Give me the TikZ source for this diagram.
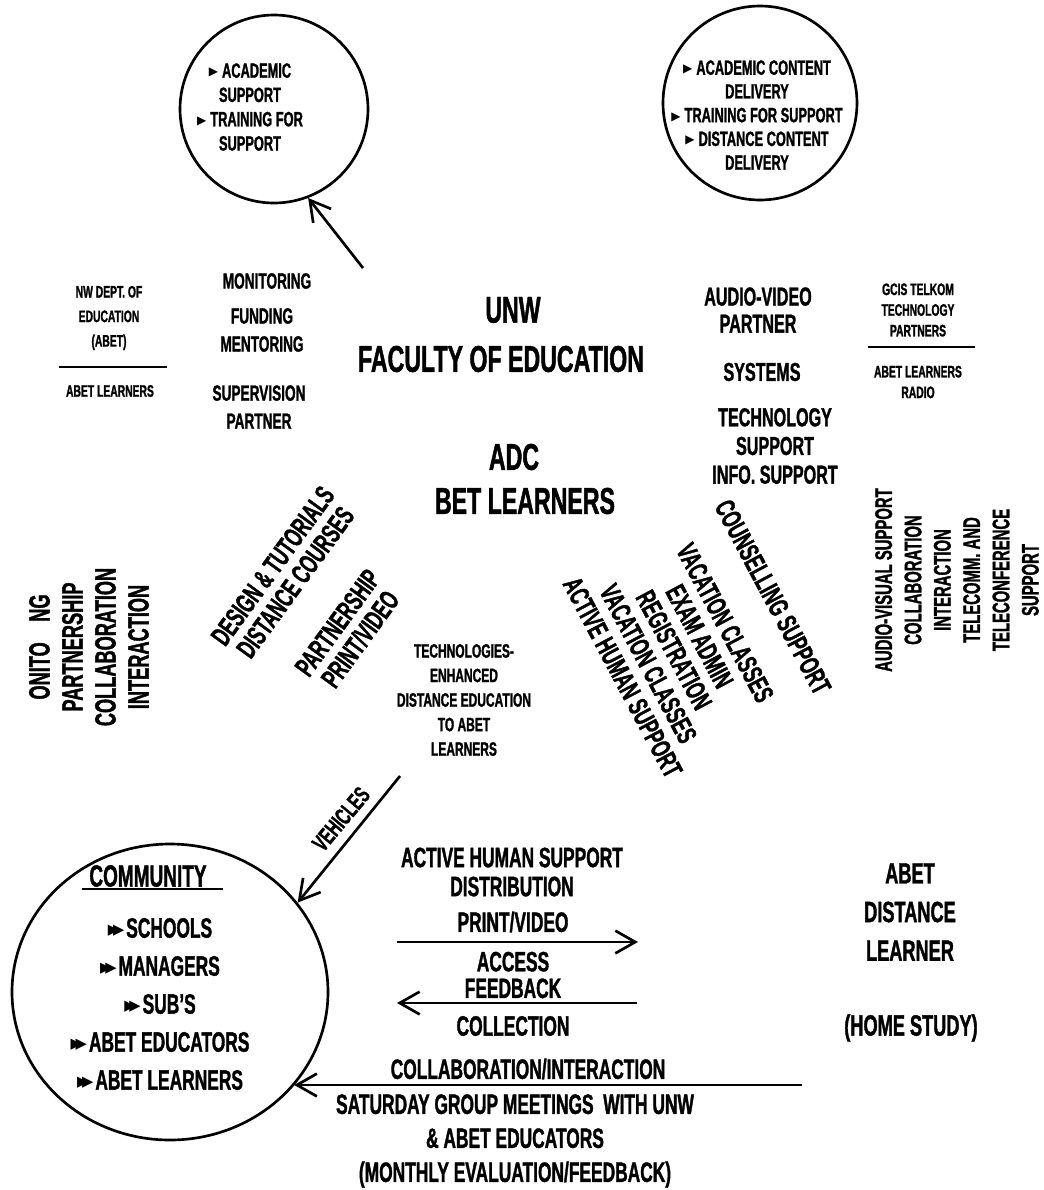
\documentclass[tikz,border=0pt]{standalone}
\usepackage{fontspec}
\setmainfont{Liberation Sans}[FakeStretch=0.62, BoldFeatures={FakeBold=1.2}]
\newfontfamily\symfont{DejaVu Sans}
\usetikzlibrary{arrows.meta,shapes.geometric}
\newcommand{\tribul}{\raisebox{1.5pt}{\symfont\fontsize{9}{9}\selectfont ▶}\hspace{3pt}}
\newcommand{\dtribul}{\raisebox{2.5pt}{\symfont\fontsize{11}{11}\selectfont ▶\kern-0.42em▶}\hspace{1.5pt}}

\tikzset{every picture/.style={line width=2pt}}
\tikzset{
  lbl/.style 2 args={font=\bfseries\fontsize{#1}{#2}\selectfont, align=center, inner sep=0pt},
  ring/.style={draw, circle, inner sep=0pt},
  arr/.style={-{Straight Barb[length=15pt,width=17pt]}},
  rulethin/.style={line width=1.2pt}
}

\begin{document}
\begin{tikzpicture}[x=0.75pt,y=0.75pt,yscale=-1,xscale=1]
\useasboundingbox (0,0) rectangle (1044,1190);

%Shape: Circle [academic support]
\draw (274,109) node[ring, minimum size=141pt] (acadring) {};
%Shape: Circle [content delivery]
\draw (760,103) node[ring, minimum size=145.5pt] (contentring) {};
%Shape: Ellipse [community]
\draw (170,992) node[draw, ellipse, inner sep=0pt, minimum width=237pt, minimum height=222pt] (commring) {};

% Text Node
\draw (250,107) node[lbl={15.5}{18.2}] (acadtxt) {\tribul ACADEMIC\\SUPPORT\\\tribul TRAINING FOR\\SUPPORT};
% Text Node
\draw (757,115) node[lbl={15.5}{17.8}] (contenttxt) {\tribul ACADEMIC CONTENT\\DELIVERY\\\tribul TRAINING FOR SUPPORT\\\tribul DISTANCE CONTENT\\DELIVERY};

%Straight Lines [monitoring arrow]
\coordinate (monarrow) at (363,268);
\draw[arr] (monarrow) -- (acadring.-69);

% Text Node
\draw (109,318) node[lbl={12.5}{18.4}] (nwdept) {NW DEPT. OF\\EDUCATION\\(ABET)};
\draw[rulethin] (59,367) -- (167,367);
% Text Node
\draw (110,391) node[lbl={12.5}{18.4}] (nwlearn) {ABET LEARNERS};

% Text Node
\draw (267,281) node[lbl={16.5}{21}] (monitor) {MONITORING};
% Text Node
\draw (262,330) node[lbl={16.5}{21}] (fundment) {FUNDING\\MENTORING};
% Text Node
\draw (259,407) node[lbl={16.5}{21}] (superv) {SUPERVISION\\PARTNER};

% Text Node
\draw (513,310) node[lbl={28}{28}] (unw) {UNW};
% Text Node
\draw (501,359) node[lbl={28}{28}] (faculty) {FACULTY OF EDUCATION};
% Text Node
\draw (514,457) node[lbl={28}{28}] (adc) {ADC};
% Text Node
\draw (525,501) node[lbl={28}{28}] (betlearn) {BET LEARNERS};

% Text Node
\draw (758,310) node[lbl={19.5}{20.3}] (avpartner) {AUDIO-VIDEO\\PARTNER};
% Text Node
\draw (762,372) node[lbl={19.5}{20.3}] (systems) {SYSTEMS};
% Text Node
\draw (775,446) node[lbl={19.5}{21.5}] (techsup) {TECHNOLOGY\\SUPPORT\\INFO. SUPPORT};

% Text Node
\draw (918,310) node[lbl={12.5}{15.5}] (gcis) {GCIS TELKOM\\TECHNOLOGY\\PARTNERS};
\draw[rulethin] (868,347) -- (975,347);
% Text Node
\draw (918,382) node[lbl={12.5}{15.5}] (radio) {ABET LEARNERS\\RADIO};

% Text Node
\draw (89,647) node[lbl={22}{24.75}, rotate=90] (partnerv) {ONITO\hspace{0.7em}NG\\PARTNERSHIP\\COLLABORATION\\INTERACTION};
% Text Node
\draw (284,574) node[lbl={21}{21}, rotate=54] (design) {DESIGN \& TUTORIALS\\DISTANCE COURSES};
% Text Node
\draw (349,631) node[lbl={21}{21}, rotate=54] (printpart) {PARTNERSHIP\\PRINT/VIDEO};
% Text Node
\draw (464,700) node[lbl={14.5}{18.4}] (techenh) {TECHNOLOGIES-\\ENHANCED\\DISTANCE EDUCATION\\TO ABET\\LEARNERS};

% Text Node
\draw (773,597) node[lbl={21}{21.75}, rotate=-62] (counsel) {COUNSELLING SUPPORT};
% Text Node
\draw (674,650) node[lbl={21}{21.75}, rotate=-62] (vacation) {VACATION CLASSES\\EXAM ADMIN\\REGISTRATION\\VACATION CLASSES\\ACTIVE HUMAN SUPPORT};
% Text Node
\draw (957,580) node[lbl={18}{22}, rotate=90] (avsupport) {AUDIO-VISUAL SUPPORT\\COLLABORATION\\INTERACTION\\TELECOMM. AND\\TELECONFERENCE\\SUPPORT};

%Straight Lines [vehicles]
\coordinate (vehtail) at (400,776);
\draw[arr] (vehtail) -- (commring.35);
% Text Node
\draw (341,819) node[lbl={18}{18}, rotate=50] (vehicles) {VEHICLES};

% Text Node
\draw (148,876) node[lbl={23}{23}] (community) {COMMUNITY};
\draw[rulethin] (82,889) -- (223,889);
% Text Node
\draw (160,1004) node[lbl={21}{28.5}] (members) {\dtribul SCHOOLS\\\dtribul MANAGERS\\\dtribul SUB’S\\\dtribul ABET EDUCATORS\\\dtribul ABET LEARNERS};

% Text Node
\draw (512,872) node[lbl={21}{21.75}] (distrib) {ACTIVE HUMAN SUPPORT\\DISTRIBUTION};
% Text Node
\draw (513,922) node[lbl={21}{21}] (printvid) {PRINT/VIDEO};
%Straight Lines [outgoing]
\coordinate (distL) at (397,942);
\coordinate (distR) at (638,942);
\draw[arr] (distL) -- (distR);
% Text Node
\draw (513,975) node[lbl={21}{20}] (feedback) {ACCESS\\FEEDBACK};
%Straight Lines [return]
\coordinate (fbR) at (637,1003);
\coordinate (fbL) at (397,1003);
\draw[arr] (fbR) -- (fbL);
% Text Node
\draw (513,1026) node[lbl={21}{21}] (collect) {COLLECTION};
% Text Node
\draw (528,1069) node[lbl={21}{21}] (collab) {COLLABORATION/INTERACTION};
%Straight Lines [meetings]
\coordinate (collabR) at (802,1085);
\draw[arr] (collabR) -- (commring.-37 |- collabR);
% Text Node
\draw (515,1141) node[lbl={21}{25.5}] (meetings) {SATURDAY GROUP MEETINGS~ WITH UNW\\\& ABET EDUCATORS\\(MONTHLY EVALUATION/FEEDBACK)};

% Text Node
\draw (910,912) node[lbl={22}{29}] (learner) {ABET\\DISTANCE\\LEARNER};
% Text Node
\draw (911,1028) node[lbl={22}{22}] (homestudy) {(HOME STUDY)};

\end{tikzpicture}
\end{document}
